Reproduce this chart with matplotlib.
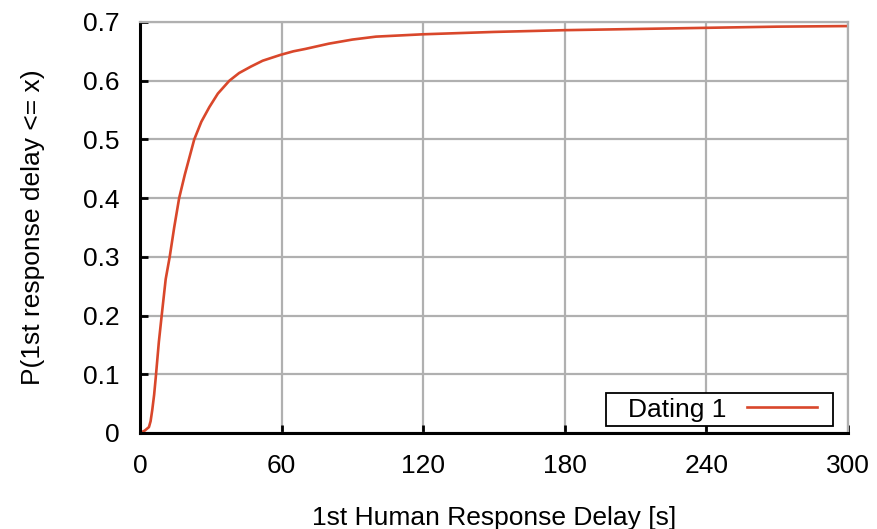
import matplotlib
matplotlib.use("Agg")
import matplotlib.pyplot as plt
from matplotlib.patches import Rectangle

plt.rcParams['font.family'] = ['Liberation Sans', 'DejaVu Sans']

delay_s = [0, 2.0, 3.8, 4.5, 5.2, 6.0, 6.7, 8.0, 9.2, 10.9, 12.6, 14.5, 16.6, 19.0,
           23.0, 26.0, 29.4, 33.0, 37.9, 42.0, 47.0, 52.0, 59.6, 65.0, 70.0, 80.0,
           90.0, 100.0, 110.0, 120.0, 150.0, 180.0, 210.0, 240.0, 270.0, 300.0]
cdf = [0, 0.004, 0.010, 0.020, 0.039, 0.065, 0.095, 0.155, 0.200, 0.262, 0.300, 0.350,
       0.400, 0.440, 0.500, 0.530, 0.555, 0.578, 0.600, 0.613, 0.624, 0.634, 0.644,
       0.650, 0.654, 0.663, 0.670, 0.675, 0.677, 0.679, 0.683, 0.686, 0.688, 0.690,
       0.692, 0.693]
xticks = [0, 60, 120, 180, 240, 300]
yticks = [0, 0.1, 0.2, 0.3, 0.4, 0.5, 0.6, 0.7]

fig = plt.figure(figsize=(8.77, 5.29), dpi=100)
ax = fig.add_axes([0.1596, 0.1815, 0.8073, 0.777])
ax.plot(delay_s, cdf, color='#d9472b', lw=1.9, label='Dating 1')
ax.set_xlim(0, 300)
ax.set_ylim(0, 0.7)
ax.set_xticks(xticks)
ax.set_yticks(yticks)
ax.set_yticklabels(['0' if v == 0 else f'{v:.1f}' for v in yticks])
ax.grid(True, color='#b0b0b0', lw=1.6)
ax.set_axisbelow(True)
for side in ['left', 'bottom']:
    ax.spines[side].set_linewidth(2.2)
    ax.spines[side].set_color('black')
for side in ['top', 'right']:
    ax.spines[side].set_linewidth(1.6)
    ax.spines[side].set_color('#b0b0b0')
ax.tick_params(direction='in', length=6, width=2, labelsize=19)
ax.tick_params(axis='x', pad=15)
ax.tick_params(axis='y', pad=15)
ax.set_xlabel('1st Human Response Delay [s]', fontsize=19, labelpad=20)
ax.set_ylabel('P(1st response delay <= x)', fontsize=19, labelpad=27)
leg = ax.legend(loc='center right', markerfirst=False, fontsize=19, frameon=False,
                borderpad=0, handlelength=2.65, handletextpad=0.77, borderaxespad=0,
                bbox_to_anchor=(0.956, 0.057))

# legend frame with wider horizontal than vertical padding
fig.canvas.draw()
bb = leg.get_window_extent()
W, H = fig.bbox.width, fig.bbox.height
cy = (bb.y0 + bb.y1) / 2
x0 = bb.x0 - 22
x1 = bb.x1 + 16
hh = 33
frame = Rectangle((x0 / W, (cy - hh / 2) / H), (x1 - x0) / W, hh / H,
                  transform=fig.transFigure, facecolor='white', edgecolor='black',
                  lw=1.3, zorder=4.9, clip_on=False)
ax.add_patch(frame)
fig.savefig('out.png', dpi=100)
